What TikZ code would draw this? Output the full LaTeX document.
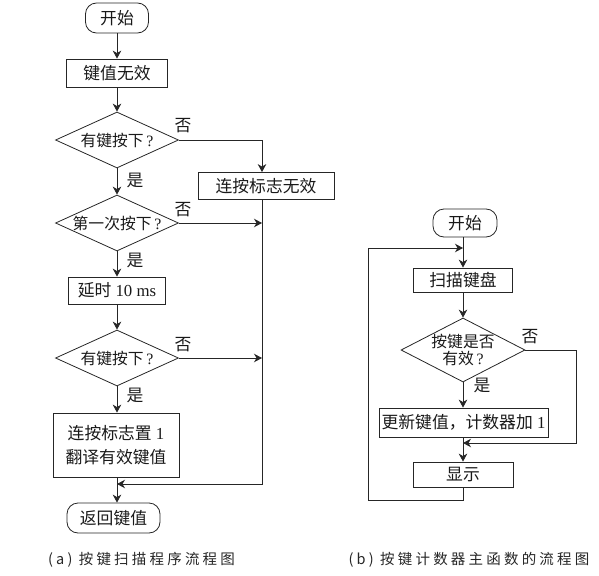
\documentclass[tikz,border=0pt]{standalone}
\usepackage{fontspec}
\setmainfont{Liberation Serif}
\newfontfamily\cjk{Noto Sans CJK SC}
\usetikzlibrary{arrows.meta,shapes.geometric}
\newcommand\fs{\fontsize{16.8}{24}\selectfont}
\newcommand\fd{\fontsize{15.8}{20}\selectfont}
\newcommand\cs{\fontsize{14.5}{16}\selectfont}
\newcommand\gp{\hspace{3.2pt}}
\begin{document}
\begin{tikzpicture}[x=1pt,y=-1pt,line width=0.8pt,draw=black!85,
  >={Stealth[length=8pt,width=8.5pt,inset=2.5pt]},
  box/.style={draw,rectangle,inner sep=0pt,font=\fs,text=black!90},
  term/.style={draw,rectangle,rounded corners=11pt,inner sep=0pt,font=\fs,text=black!90},
  dia/.style={draw,diamond,shape aspect=2,inner sep=0pt},
  dtext/.style={font=\fd,text=black!90,align=center},
  lab/.style={font=\fs\cjk,text=black!90},
  capt/.style={font=\cs\cjk,text=black!85}]
\useasboundingbox (0,0) rectangle (599,575);
% ---------- left chart ----------
\node[term,minimum width=63pt,minimum height=30pt] (st) at (117,18) {\cjk 开始};
\node[box,minimum width=101pt,minimum height=28pt] (b1) at (117,73) {\cjk 键值无效};
\node[dia,minimum width=123pt,minimum height=56pt,
  label={[dtext]center:{\cjk 有键按下}\,?}] (d1) at (117,140) {};
\node[box,minimum width=136pt,minimum height=27pt] (s1) at (266,186) {\cjk 连按标志无效};
\node[dia,minimum width=123pt,minimum height=56pt,
  label={[dtext]center:{\cjk 第一次按下}\,?}] (d2) at (117,223) {};
\node[box,minimum width=97pt,minimum height=27pt] (b2) at (117,290.5) {{\cjk 延时} 10 ms};
\node[dia,minimum width=123pt,minimum height=56pt,
  label={[dtext]center:{\cjk 有键按下}\,?}] (d3) at (117,358) {};
\node[box,minimum width=126pt,minimum height=64pt,align=center] (b3) at (116,445)
  {{\cjk 连按标志置} 1\\{\cjk 翻译有效键值}};
\node[term,minimum width=93pt,minimum height=30pt] (ret) at (113.5,518) {\cjk 返回键值};
\coordinate (colR) at (262,0);
\coordinate (j1) at (117,484);
\draw[->] (st) -- (b1);
\draw[->] (b1) -- (d1);
\draw[->] (d1.east) -| (colR |- s1.north);
\draw[->] (d1) -- (d2);
\draw[->] (d2.east) -- (colR |- d2.east);
\draw[->] (d2) -- (b2);
\draw[->] (b2) -- (d3);
\draw[->] (d3.east) -- (colR |- d3.east);
\draw[->] (d3) -- (d3.south |- b3.north);
\draw[->] (colR |- s1.south) |- (j1);
\draw[->] (j1 |- b3.south) -- (j1 |- ret.north);
\node[lab] (n1) at (183,126) {否};
\node[lab] (n2) at (183,210) {否};
\node[lab] (n3) at (183,345) {否};
\node[lab] (y1) at (135,180) {是};
\node[lab] (y2) at (135,260) {是};
\node[lab] (y3) at (135,395) {是};
\node[capt] (capa) at (141.5,560) {(\gp a\gp)\gp\gp 按\gp 键\gp 扫\gp 描\gp 程\gp 序\gp 流\gp 程\gp 图};
% ---------- right chart ----------
\node[term,minimum width=64pt,minimum height=28pt] (st2) at (465,223) {\cjk 开始};
\node[box,minimum width=99pt,minimum height=24pt] (scan) at (463,280) {\cjk 扫描键盘};
\node[dia,minimum width=124pt,minimum height=64pt,
  label={[dtext]center:{\cjk 按键是否}\\[-3pt]{\cjk 有效}\,?}] (d4) at (463,350) {};
\node[box,minimum width=169pt,minimum height=29pt] (upd) at (463.5,422.5) {{\cjk 更新键值，计数器加} 1};
\node[box,minimum width=100pt,minimum height=25pt] (disp) at (463,474.5) {\cjk 显示};
\coordinate (j2) at (463,248);
\coordinate (j3) at (463,443);
\coordinate (cR) at (576,0);
\coordinate (cL) at (368,0);
\coordinate (bot) at (0,500);
\draw[->] (st2.south -| j2) -- (j2 |- scan.north);
\draw[->] (scan) -- (d4);
\draw[->] (d4) -- (d4.south |- upd.north);
\draw[->] (j3 |- upd.south) -- (j3 |- disp.north);
\draw[->] (d4.east) -| (cR |- j3) -- (j3);
\draw[->] (disp.south) -- (disp.south |- bot) -| (cL |- j2) -- (j2);
\node[lab] (n4) at (530,337) {否};
\node[lab] (y4) at (482,385) {是};
\node[capt] (capb) at (469,560) {(\gp b\gp)\gp\gp 按\gp 键\gp 计\gp 数\gp 器\gp 主\gp 函\gp 数\gp 的\gp 流\gp 程\gp 图};
\end{tikzpicture}
\end{document}
